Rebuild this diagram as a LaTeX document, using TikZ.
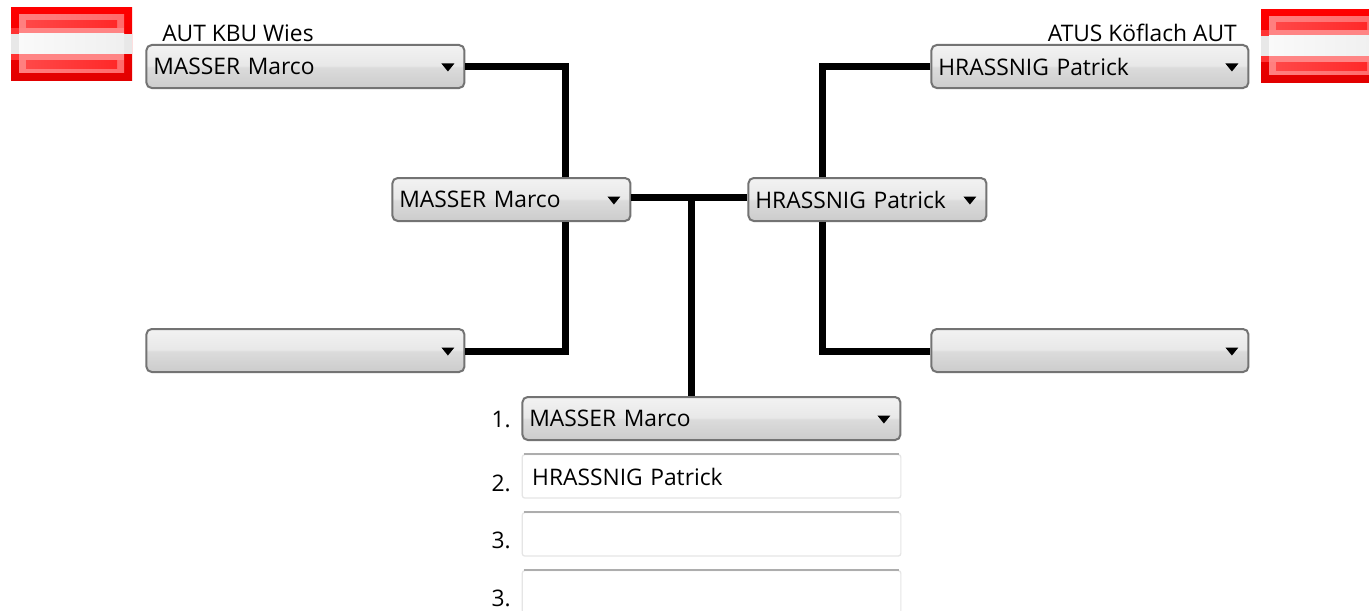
\documentclass[tikz,border=0pt]{standalone}
\usepackage{fontspec}
\setmainfont{Open Sans}
\usepackage{tikz}
\usetikzlibrary{calc}
\pgfdeclareverticalshading{comboshade}{100bp}{
  color(0bp)=(black!20); color(25bp)=(black!20); color(49bp)=(black!14);
  color(51bp)=(black!9); color(75bp)=(black!5); color(100bp)=(black!5)}
\definecolor{flagred}{RGB}{255,0,0}
\definecolor{flagdark}{RGB}{226,0,0}
\tikzset{
  x=0.75pt,y=-0.75pt,
  combo/.style={draw=black!55,line width=1.5pt,rounded corners=4pt,shading=comboshade,
    inner xsep=5.25pt,inner ysep=0pt,anchor=north west,minimum height=32.25pt,
    text width=#1,align=left,font=\fontsize{17.1}{19}\selectfont,text depth=0pt},
  field/.style={draw=black!10,line width=0.9pt,rounded corners=2pt,fill=white,
    inner xsep=7.5pt,inner ysep=0pt,anchor=north west,minimum height=32.6pt,
    text width=269pt,align=left,font=\fontsize{17.1}{19}\selectfont,text depth=0pt},
  caption/.style={inner sep=0pt,font=\fontsize{17.1}{19}\selectfont},
  link/.style={line width=5.25pt},
}
\newcommand{\flagpic}[2]{
  \begin{scope}[shift={(#1,#2)}]
    \shade[top color=flagred,bottom color=flagdark] (0,0) rectangle (121,72);
    \shade[left color=red!50!white,right color=red!58!white] (8,7) rectangle (113,65);
    \shade[left color=red!72!white,right color=red!84!white] (15,13) rectangle (106,61);
    \fill[red!80!white] (0,20) rectangle (8,26);
    \fill[red!80!white] (0,46) rectangle (8,52);
    \fill[red!48!white] (8,20) rectangle (113,26);
    \fill[red!48!white] (8,46) rectangle (113,52);
    \fill[black!9] (0,26) rectangle (121,46);
    \shade[left color=black!2,right color=black!6] (8,26) rectangle (113,46);
  \end{scope}
}
\begin{document}
\begin{tikzpicture}
  \clip (0,0) rectangle (1369,610);
  \fill[white] (0,0) rectangle (1369,610);

  \flagpic{11}{8}
  \flagpic{1261}{10}

  \node[combo=228pt]   (left1)  at (145.4,44)  {MASSER Marco};
  \node[combo=228pt]   (left2)  at (145.4,328) {};
  \node[combo=227.25pt] (right1) at (930.4,44)  {HRASSNIG Patrick};
  \node[combo=227.25pt] (right2) at (930.4,328) {};
  \node[combo=168pt]   (semi1)  at (391.4,177) {MASSER Marco};
  \node[combo=168pt]   (semi2)  at (747.4,177) {HRASSNIG Patrick};
  \node[combo=273pt]   (rank1)  at (521.4,396) {MASSER Marco};
  \node[field] (rank2) at (521.6,454) {HRASSNIG Patrick};
  \node[field] (rank3) at (521.6,512) {};
  \node[field] (rank4) at (521.6,570) {};

  \node[caption,anchor=base west] (club1) at (162,41) {AUT KBU Wies};
  \node[caption,anchor=base east] (club2) at (1237,41) {ATUS Köflach AUT};
  \node[caption,anchor=base east] (num1) at (511,427) {1.};
  \node[caption,anchor=base east] (num2) at (511,491) {2.};
  \node[caption,anchor=base east] (num3) at (511,548) {3.};
  \node[caption,anchor=base east] (num4) at (511,606) {3.};

  \coordinate (kneeA) at (565,67);
  \coordinate (kneeB) at (565,351);
  \coordinate (kneeC) at (822,67);
  \coordinate (kneeD) at (822,351);
  \coordinate (drop)  at (691,197);

  \draw[link] (left1.east |- kneeA) -- (kneeA) -- (kneeA |- semi1.north);
  \draw[link] (left2.east |- kneeB) -- (kneeB) -- (kneeB |- semi1.south);
  \draw[link] (right1.west |- kneeC) -- (kneeC) -- (kneeC |- semi2.north);
  \draw[link] (right2.west |- kneeD) -- (kneeD) -- (kneeD |- semi2.south);
  \draw[link] (semi1.east |- drop) -- (semi2.west |- drop);
  \draw[link] (drop) -- (drop |- rank1.north);

  \foreach \n in {left1,left2,right1,right2,semi1,semi2,rank1}
    \fill ($(\n.east)+(-24,-3)$) -- ++(13,0) -- ++(-6.5,8) -- cycle;
  \foreach \n in {rank2,rank3,rank4}
    \draw[draw=black!32,line width=1.1pt] ($(\n.north west)+(2,0)$) -- ($(\n.north east)+(-2,0)$);
\end{tikzpicture}
\end{document}
